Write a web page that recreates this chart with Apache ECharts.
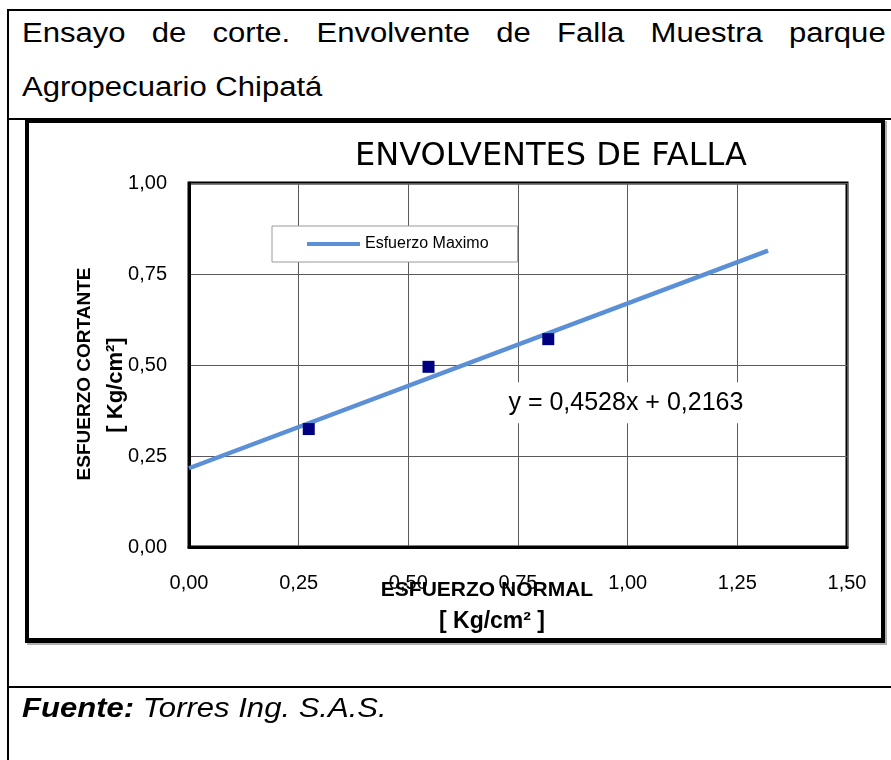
<!DOCTYPE html>
<html>
<head>
<meta charset="utf-8">
<title>Envolventes de falla</title>
<script src="https://cdn.jsdelivr.net/npm/echarts@6/dist/echarts.min.js"></script>
<style>
  html, body { margin: 0; padding: 0; background: #fff; }
  #page { position: relative; width: 891px; height: 760px; overflow: hidden; background: #fff;
          font-family: 'Liberation Sans', Arial, sans-serif; color: #000; }
  .hline { position: absolute; left: 7px; right: 0; height: 2px; background: #000; }
  .vline { position: absolute; left: 7px; top: 9px; bottom: 0; width: 2px; background: #000; }
  .txt { position: absolute; left: 22px; font-size: 27px; line-height: 27px; white-space: nowrap;
         transform: scaleX(1.15); transform-origin: 0 0; }
  #line1 { width: 751px; text-align: justify; text-align-last: justify; white-space: normal; }
  #frame { position: absolute; left: 25px; top: 119px; width: 852px; height: 515px;
           border: 4px solid #000; border-bottom-width: 5px; box-shadow: 2px 2px 0 #b0b0b0; }
  #chart { position: absolute; left: 0; top: 0; width: 891px; height: 760px; }
  #footer { font-style: italic; }
</style>
</head>
<body>
<div id="page">
  <div class="hline" style="top:9px"></div>
  <div class="vline"></div>
  <div class="hline" style="top:118px"></div>
  <div class="hline" style="top:686px"></div>
  <div class="txt" id="line1" style="top:20px">Ensayo de corte. Envolvente de Falla Muestra parque</div>
  <div class="txt" style="top:74px">Agropecuario Chipatá</div>
  <div id="frame"></div>
  <div id="chart"></div>
  <div class="txt" id="footer" style="top:695px"><b>Fuente:</b> Torres Ing. S.A.S.</div>
</div>
<script>
// Ensayo de corte: esfuerzo normal vs. esfuerzo cortante (kg/cm²)
const esfuerzoNormal = [0.273, 0.546, 0.819];
const esfuerzoCortante = [0.324, 0.495, 0.571];

// Línea de tendencia lineal reportada: y = pendiente·x + intercepto
const pendiente = 0.4528;
const intercepto = 0.2163;
const tendenciaRango = [0, 1.32];

// Marcas de los ejes
const ticksX = [0, 0.25, 0.5, 0.75, 1.0, 1.25, 1.5];
const ticksY = [0, 0.25, 0.5, 0.75, 1.0];

const FONT = "'Liberation Sans', Arial, sans-serif";
const coma = v => v.toFixed(2).replace('.', ',');
const coma4 = v => v.toFixed(4).replace('.', ',');

const puntos = esfuerzoNormal.map((x, i) => [x, esfuerzoCortante[i]]);
const tendencia = tendenciaRango.map(x => [x, pendiente * x + intercepto]);
const ecuacion = 'y = ' + coma4(pendiente) + 'x + ' + coma4(intercepto);

const chart = echarts.init(document.getElementById('chart'), null, { renderer: 'canvas' });
chart.setOption({
  backgroundColor: 'transparent',
  animation: false,
  title: {
    text: 'ENVOLVENTES DE FALLA',
    left: 350, top: 136,
    textStyle: { fontFamily: "'DejaVu Sans', sans-serif", fontWeight: 'normal', fontSize: 32, color: '#000' }
  },
  legend: {
    left: 272, top: 226,
    padding: [10, 29, 10, 35],
    backgroundColor: '#fff',
    borderColor: '#9a9a9a', borderWidth: 1,
    itemWidth: 53, itemHeight: 4,
    textStyle: { fontFamily: FONT, fontSize: 16, color: '#000' },
    data: [{ name: 'Esfuerzo Maximo', icon: 'rect' }]
  },
  grid: {
    left: 189, top: 183, width: 658, height: 364,
    show: true, borderColor: '#000', borderWidth: 3, backgroundColor: 'transparent'
  },
  xAxis: {
    type: 'value', min: ticksX[0], max: ticksX[ticksX.length - 1], interval: 0.25,
    axisLine: { show: true, lineStyle: { color: '#000', width: 3 } },
    axisTick: { show: false },
    splitLine: { show: true, lineStyle: { color: '#5a5a5a', width: 1 } },
    axisLabel: { formatter: coma, fontFamily: FONT, fontSize: 20, color: '#000', margin: 26 },
    name: '{a|ESFUERZO NORMAL}\n{b|[ Kg/cm² ]}',
    nameLocation: 'middle', nameGap: 27, nameMoveOverlap: false,
    nameTextStyle: {
      fontFamily: FONT, fontWeight: 'bold', color: '#000', padding: [0, 62, 0, 0],
      rich: {
        a: { fontFamily: FONT, fontWeight: 'bold', fontSize: 21, lineHeight: 32, color: '#000' },
        b: { fontFamily: FONT, fontWeight: 'bold', fontSize: 23, lineHeight: 32, color: '#000', padding: [0, 0, 0, 10] }
      }
    }
  },
  yAxis: {
    type: 'value', min: ticksY[0], max: ticksY[ticksY.length - 1], interval: 0.25,
    axisLine: { show: true, lineStyle: { color: '#000', width: 3 } },
    axisTick: { show: false },
    splitLine: { show: true, lineStyle: { color: '#5a5a5a', width: 1 } },
    axisLabel: { formatter: coma, fontFamily: FONT, fontSize: 20, color: '#000', margin: 22 },
    name: '{a|ESFUERZO CORTANTE}\n{b|[ Kg/cm²]}',
    nameLocation: 'middle', nameGap: 58, nameMoveOverlap: false,
    nameTextStyle: {
      fontFamily: FONT, fontWeight: 'bold', color: '#000',
      rich: {
        a: { fontFamily: FONT, fontWeight: 'bold', fontSize: 19, lineHeight: 31, color: '#000', padding: [0, 18, 0, 0] },
        b: { fontFamily: FONT, fontWeight: 'bold', fontSize: 22, lineHeight: 31, color: '#000', padding: [0, 40, 0, 0] }
      }
    }
  },
  series: [
    {
      name: 'Esfuerzo Maximo',
      type: 'line',
      data: tendencia,
      showSymbol: false,
      symbol: 'none',
      lineStyle: { color: '#5b8fd6', width: 4.5 },
      itemStyle: { color: '#5b8fd6' },
      z: 3,
      markPoint: {
        symbol: 'rect', symbolSize: 0,
        silent: true,
        label: {
          show: true, position: 'inside',
          formatter: ecuacion,
          fontFamily: FONT, fontSize: 25, color: '#000',
          backgroundColor: '#fff', padding: [8, 4]
        },
        data: [{ coord: [0.996, 0.396] }]
      }
    },
    {
      name: 'Ensayo',
      type: 'scatter',
      data: puntos,
      symbol: 'rect',
      symbolSize: 12,
      itemStyle: { color: '#000080', opacity: 1 },
      z: 4
    }
  ]
});
</script>
</body>
</html>
